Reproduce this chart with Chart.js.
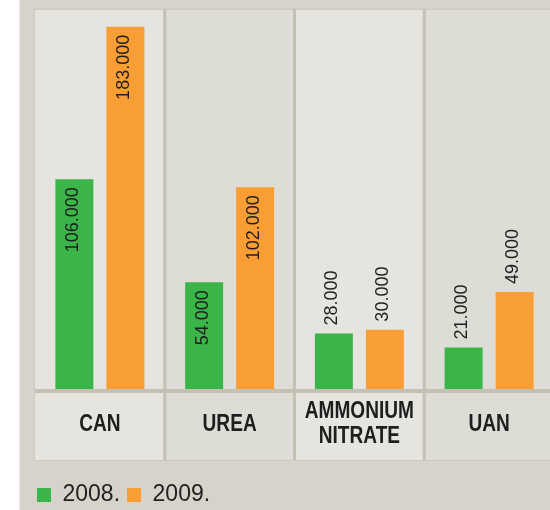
<!DOCTYPE html>
<html><head><meta charset="utf-8">
<script src="https://cdn.jsdelivr.net/npm/chart.js@4"></script>
<style>
html,body{margin:0;padding:0;background:#fff;overflow:hidden}
#wrap{width:550px;height:510px;overflow:hidden;position:relative}
canvas{display:block}
</style></head><body>
<div id="wrap"><canvas id="c" width="560" height="520"></canvas></div>
<script>
const categories = ['CAN', 'UREA', ['AMMONIUM', 'NITRATE'], 'UAN'];
const seriesNames = ['2008.', '2009.'];
const values2008 = [106000, 54000, 28000, 21000];
const values2009 = [183000, 102000, 30000, 49000];
const yMax = 192000;
const insideThreshold = 50000;

const fmt = v => String(Math.round(v)).replace(/\B(?=(\d{3})+(?!\d))/g, '.');

const panelPlugin = {
  id: 'panels',
  beforeDraw(chart) {
    const {ctx, chartArea: a, scales: {x}} = chart;
    const W = chart.width, H = chart.height;
    ctx.save();
    ctx.fillStyle = '#ffffff'; ctx.fillRect(0, 0, W, H);
    ctx.fillStyle = '#d6d3cb'; ctx.fillRect(19.5, 0, W, H);
    const n = chart.data.labels.length;
    const cw = x.getPixelForValue(1) - x.getPixelForValue(0);
    const labTop = a.bottom + 4, labBot = a.bottom + 71;
    for (let i = 0; i < n; i++) {
      const l = x.getPixelForValue(i) - cw / 2;
      ctx.fillStyle = i % 2 === 0 ? '#e5e4df' : '#dddcd5';
      ctx.fillRect(l, a.top, cw, a.bottom - a.top);
      ctx.fillRect(l, labTop, cw, labBot - labTop);
    }
    ctx.fillStyle = '#cdcabf';
    ctx.fillRect(a.left, a.top - 0.5, W, 1.5);
    ctx.fillRect(a.left - 1, a.top, 1, labBot - a.top);
    ctx.fillRect(a.left, labBot, W, 1);
    ctx.fillStyle = '#c4c0b3';
    ctx.fillRect(a.left, a.bottom, W, 4);
    for (let i = 1; i < n; i++) {
      const bx = x.getPixelForValue(i) - cw / 2;
      ctx.fillRect(bx - 1.5, a.top, 3, labBot - a.top);
    }
    ctx.restore();
  },
  afterDatasetsDraw(chart) {
    const {ctx, chartArea: a, scales: {x}} = chart;
    ctx.save();
    ctx.font = '18px "Liberation Sans", Arial, sans-serif';
    ctx.fillStyle = '#1e1e1e';
    ctx.textBaseline = 'middle';
    chart.data.datasets.forEach((ds, di) => {
      const meta = chart.getDatasetMeta(di);
      meta.data.forEach((el, i) => {
        const v = ds.data[i];
        ctx.save();
        ctx.translate(el.x, el.y);
        ctx.rotate(-Math.PI / 2);
        if (v >= insideThreshold) { ctx.textAlign = 'right'; ctx.fillText(fmt(v), -8, -1.5); }
        else { ctx.textAlign = 'left'; ctx.fillText(fmt(v), 8, -1.5); }
        ctx.restore();
      });
    });
    // category labels (condensed bold), positioned through the x scale
    ctx.font = 'bold 23px "Liberation Sans", Arial, sans-serif';
    ctx.fillStyle = '#1e1e1e';
    ctx.textAlign = 'center';
    ctx.textBaseline = 'middle';
    const cy = a.bottom + 35.3;
    const lh = 24.5;
    chart.data.labels.forEach((lab, i) => {
      const lines = Array.isArray(lab) ? lab : [lab];
      const px = x.getPixelForValue(i);
      lines.forEach((line, k) => {
        const ly = cy - (lines.length - 1) * lh / 2 + k * lh;
        ctx.save();
        ctx.translate(px, ly);
        ctx.scale(0.83, 1);
        ctx.fillText(line, 0, 0);
        ctx.restore();
      });
    });
    ctx.restore();
  }
};

new Chart(document.getElementById('c'), {
  type: 'bar',
  data: {
    labels: categories,
    datasets: [
      {label: seriesNames[0], data: values2008, backgroundColor: '#3bb54a', borderWidth: 0, categoryPercentage: 0.786, barPercentage: 0.745},
      {label: seriesNames[1], data: values2009, backgroundColor: '#f99d35', borderWidth: 0, categoryPercentage: 0.786, barPercentage: 0.745}
    ]
  },
  options: {
    responsive: false, animation: false, devicePixelRatio: 1,
    layout: {padding: {left: 30, right: 6, top: 9, bottom: 3.5}},
    scales: {
      x: {
        grid: {display: false, drawTicks: false}, border: {display: false},
        ticks: {display: false},
        afterFit(s) { s.height = 87.5; }
      },
      y: {
        min: 0, max: yMax,
        grid: {display: false, drawTicks: false}, border: {display: false}, ticks: {display: false},
        afterFit(s) { s.width = 5; }
      }
    },
    plugins: {
      legend: {position: 'bottom', align: 'start',
        labels: {boxWidth: 14, boxHeight: 14, padding: 7, color: '#222222',
                 font: {family: '"Liberation Sans", Arial, sans-serif', size: 23}}},
      tooltip: {enabled: false}
    }
  },
  plugins: [panelPlugin]
});
</script>
</body></html>
